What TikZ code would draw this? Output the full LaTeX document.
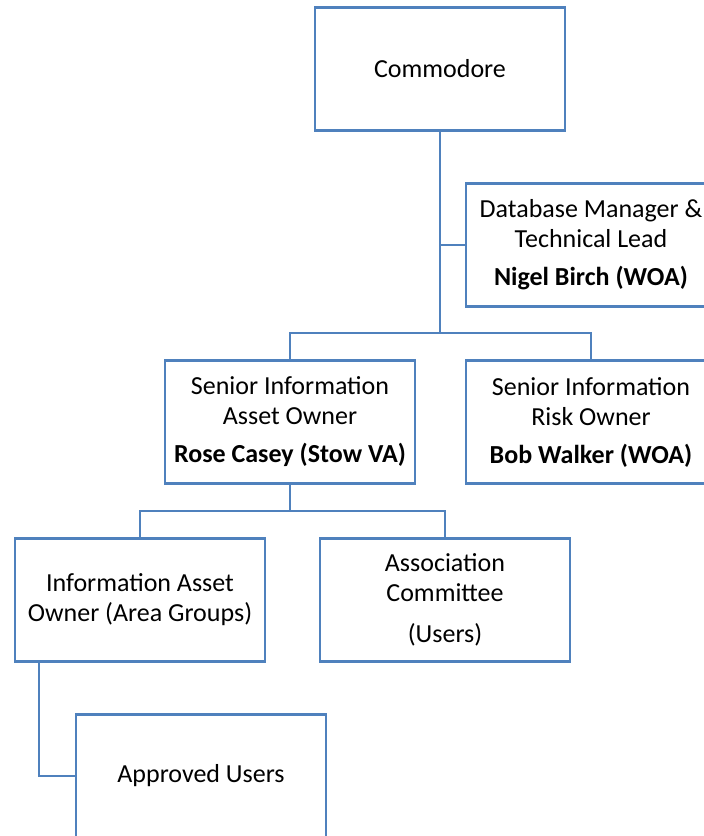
\documentclass[tikz,border=0pt]{standalone}
\usepackage{fontspec}
\setmainfont{Carlito}
\usepackage{tikz}
\definecolor{orgblue}{RGB}{79,129,189}

\begin{document}
\begin{tikzpicture}[x=1pt, y=-1pt,
        orgbox/.style={draw=orgblue, line width=2.5pt, rectangle, minimum width=250pt, minimum height=123pt, inner sep=0pt, align=center, font=\fontsize{26}{30}\selectfont},
        orgline/.style={draw=orgblue, line width=2.5pt}]
        \path[use as bounding box, clip] (0, 0) rectangle (704, 836);

        % Nodes
        \node[orgbox] (commodore) at (440, 69) {Commodore};
        \node[orgbox] (dbmanager) at (591, 245) {Database Manager \&\\Technical Lead\\[8pt]\textbf{Nigel Birch (WOA)}};
        \node[orgbox] (siao) at (290, 422) {Senior Information\\Asset Owner\\[8pt]\textbf{Rose Casey (Stow VA)}};
        \node[orgbox] (siro) at (591, 422) {Senior Information\\Risk Owner\\[8pt]\textbf{Bob Walker (WOA)}};
        \node[orgbox] (iao) at (140, 600) {Information Asset\\Owner (Area Groups)};
        \node[orgbox] (committee) at (445, 600) {Association\\Committee\\[11pt](Users)};
        \node[orgbox] (approved) at (201, 776) {Approved Users};

        % Junctions
        \coordinate (topbar) at (commodore.south |- 0, 333);
        \coordinate (midbar) at (siao.south |- 0, 511);
        \coordinate[xshift=25pt] (leg) at (iao.south west);

        % Lines
        \draw[orgline] (commodore.south) -- (topbar);
        \draw[orgline] (commodore.south |- dbmanager.west) -- (dbmanager.west);
        \draw[orgline] (siao.north) |- (topbar) -| (siro.north);
        \draw[orgline] (siao.south) -- (midbar);
        \draw[orgline] (iao.north) |- (midbar) -| (committee.north);
        \draw[orgline] (leg) |- (approved.west);
    \end{tikzpicture}
\end{document}
